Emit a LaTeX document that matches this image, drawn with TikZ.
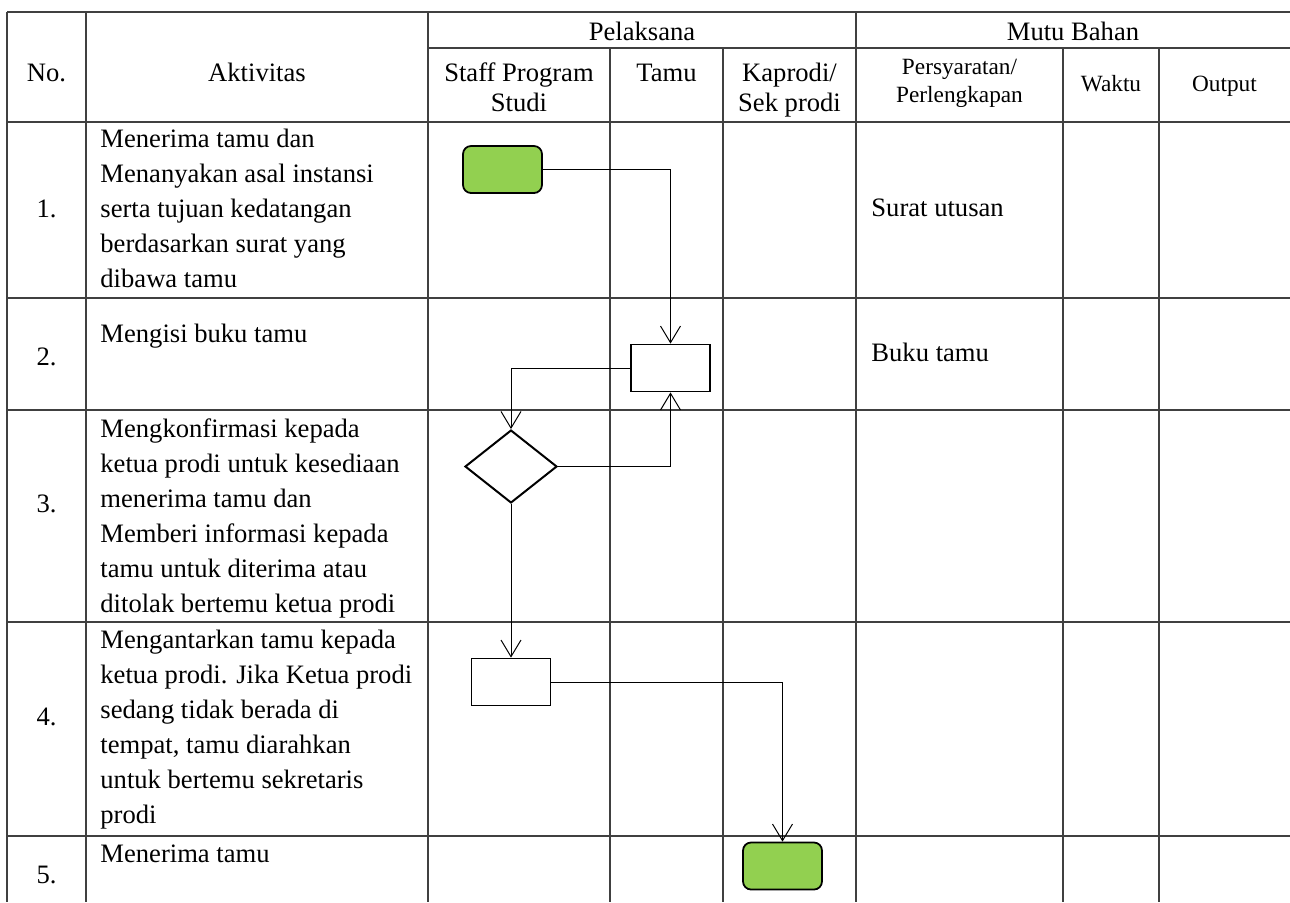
\documentclass[tikz,border=0pt]{standalone}
\usepackage{fontspec}
\setmainfont{Liberation Serif}
\usetikzlibrary{arrows.meta,shapes.geometric}
\definecolor{hijau}{HTML}{92D050}

\begin{document}
\begin{tikzpicture}[x=0.4511pt,y=-0.4511pt,>={Straight Barb[length=7.5pt,width=9pt]},
  font=\fontsize{12}{15.8}\selectfont,
  garis/.style={black!75,line width=0.55pt},
  hdr/.style={anchor=base,inner sep=0pt},
  hdrkecil/.style={anchor=base,inner sep=0pt,font=\fontsize{10.5}{12.6}\selectfont},
  aktiv/.style={anchor=north west,align=left,inner sep=0pt},
  nomor/.style={anchor=base,inner sep=0pt},
  mutu/.style={anchor=base west,inner sep=0pt},
  terminal/.style={draw=black,fill=hijau,rounded corners=3.6pt,line width=0.8pt,minimum width=35.6pt,minimum height=21.2pt,inner sep=0pt},
  proses/.style={draw=black,fill=white,line width=0.8pt,minimum width=35.6pt,minimum height=21.2pt,inner sep=0pt},
  keputusan/.style={diamond,draw=black,fill=white,line width=0.9pt,minimum width=41.5pt,minimum height=32.9pt,inner sep=0pt},
  alur/.style={->,black,line width=0.45pt}]
  \useasboundingbox (0,0) rectangle (1290,902);
  % garis tabel
  \draw[garis] (7,12) -- (1290,12);
  \draw[garis] (428,48) -- (1290,48);
  \foreach \y in {122,298,410,622,836} \draw[garis] (7,\y) -- (1290,\y);
  \foreach \x in {7,86,428,856} \draw[garis] (\x,12) -- (\x,902);
  \foreach \x in {610,723,1063,1159} \draw[garis] (\x,48) -- (\x,902);
  % kepala tabel
  \node[hdr] (hpel) at (642,40) {Pelaksana};
  \node[hdr] (hmutu) at (1073,40) {Mutu Bahan};
  \node[hdr] (hno) at (46.5,81) {No.};
  \node[hdr] (hakt) at (257,81) {Aktivitas};
  \node[hdr] (hstaffa) at (519,81) {Staff Program};
  \node[hdr] (hstaffb) at (519,111) {Studi};
  \node[hdr] (htamu) at (666.5,81) {Tamu};
  \node[hdr] (hkapa) at (789.5,81) {Kaprodi/};
  \node[hdr] (hkapb) at (789.5,111) {Sek prodi};
  \node[hdrkecil] (hsyarata) at (959.5,74) {Persyaratan/};
  \node[hdrkecil] (hsyaratb) at (959.5,102) {Perlengkapan};
  \node[hdrkecil] (hwaktu) at (1111,91) {Waktu};
  \node[hdrkecil] (houtput) at (1224.5,91) {Output};
  % nomor dan aktivitas
  \node[nomor] (n1) at (46.5,217) {1.};
  \node[nomor] (n2) at (46.5,365) {2.};
  \node[nomor] (n3) at (46.5,512) {3.};
  \node[nomor] (n4) at (46.5,725) {4.};
  \node[nomor] (n5) at (46.5,883) {5.};
  \node[aktiv] (a1) at (100,122.5) {\strut Menerima tamu dan\\Menanyakan asal instansi\\serta tujuan kedatangan\\berdasarkan surat yang\\dibawa tamu};
  \node[aktiv] (a2) at (100,317.5) {\strut Mengisi buku tamu};
  \node[aktiv] (a3) at (100,412.5) {\strut Mengkonfirmasi kepada\\ketua prodi untuk kesediaan\\menerima tamu dan\\Memberi informasi kepada\\tamu untuk diterima atau\\ditolak bertemu ketua prodi};
  \node[aktiv] (a4) at (100,623.5) {\strut Mengantarkan tamu kepada\\ketua prodi. Jika Ketua prodi\\sedang tidak berada di\\tempat, tamu diarahkan\\untuk bertemu sekretaris\\prodi};
  \node[aktiv] (a5) at (100,837.5) {\strut Menerima tamu};
  \node[mutu] (m1) at (871,216) {Surat utusan};
  \node[mutu] (m2) at (871,361) {Buku tamu};
  % bagan alir
  \node[terminal] (g1) at (502.5,169.5) {};
  \node[proses] (p2) at (670.5,368) {};
  \node[keputusan] (d3) at (511,466.5) {};
  \node[proses] (p4) at (511,682) {};
  \node[terminal] (g5) at (782.5,866) {};
  \draw[alur] (g1.east) -| (p2.north);
  \draw[alur] (p2.west) -| (d3.north);
  \draw[alur] (d3.east) -| (p2.south);
  \draw[alur] (d3.south) -- (p4.north);
  \draw[alur] (p4.east) -| (g5.north);
\end{tikzpicture}
\end{document}
